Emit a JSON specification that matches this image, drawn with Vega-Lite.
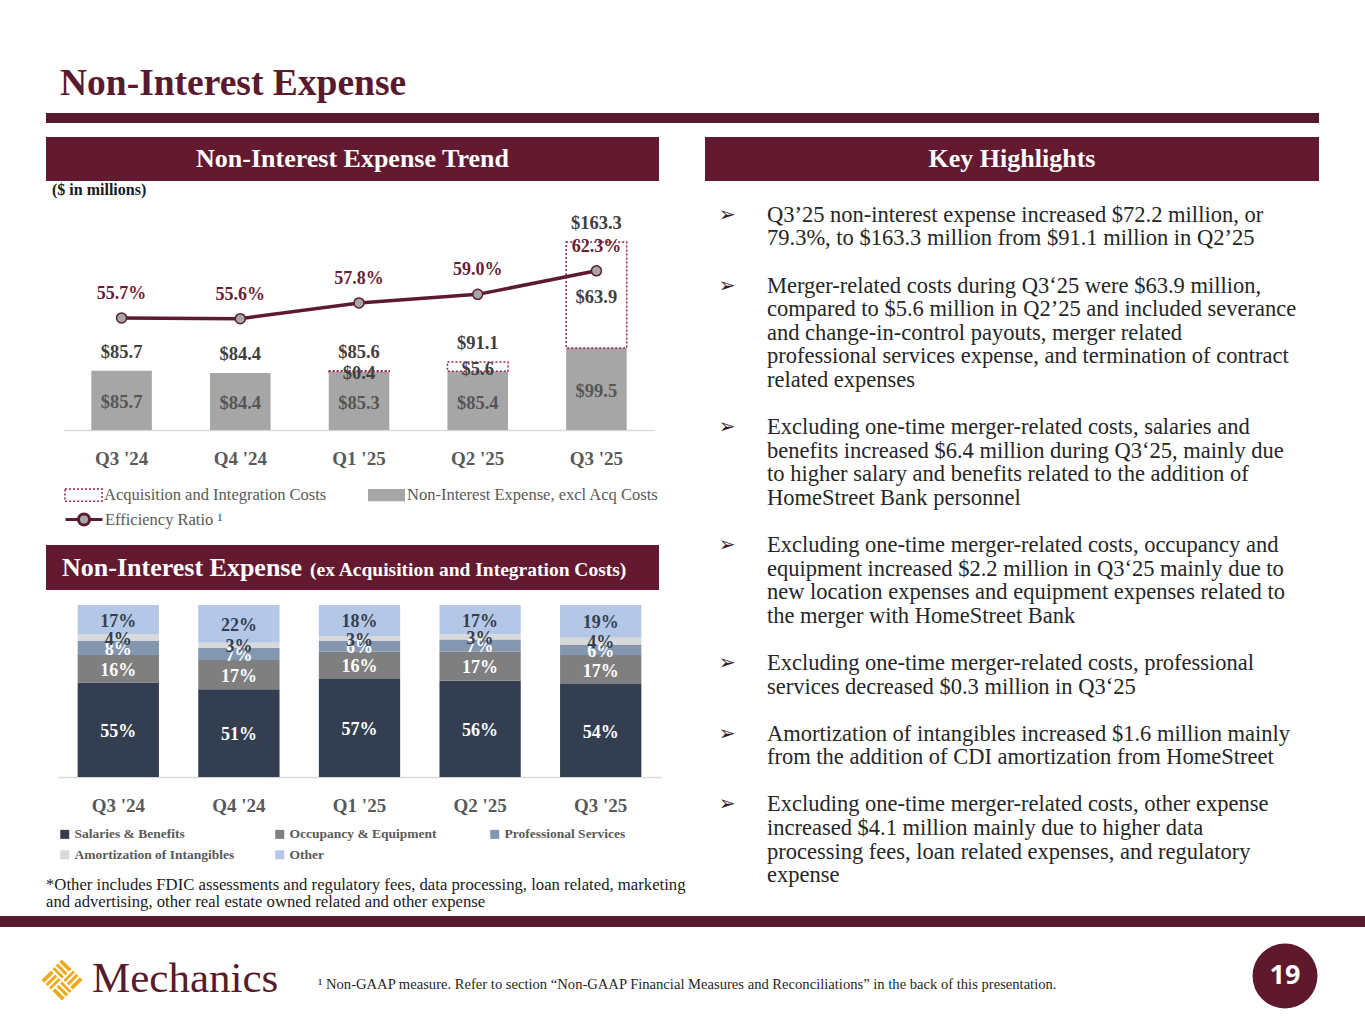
{
"$schema":"https://vega.github.io/schema/vega-lite/v6.json",
"padding":0,"background":"#ffffff","spacing":0,
"config":{"view":{"stroke":null},"font":"Liberation Serif","concat":{"spacing":0}},
"resolve":{"scale":{"color":"independent","stroke":"independent"},"legend":{"color":"independent","stroke":"independent"}},
"datasets":{
"trendBars":[
{"q":"Q3 '24","series":"Non-Interest Expense, excl Acq Costs","value":85.7},
{"q":"Q4 '24","series":"Non-Interest Expense, excl Acq Costs","value":84.4},
{"q":"Q1 '25","series":"Non-Interest Expense, excl Acq Costs","value":85.3},
{"q":"Q2 '25","series":"Non-Interest Expense, excl Acq Costs","value":85.4},
{"q":"Q3 '25","series":"Non-Interest Expense, excl Acq Costs","value":99.5},
{"q":"Q1 '25","series":"Acquisition and Integration Costs","value":0.4},
{"q":"Q2 '25","series":"Acquisition and Integration Costs","value":5.6},
{"q":"Q3 '25","series":"Acquisition and Integration Costs","value":63.9}],
"summary":[
{"q":"Q3 '24","total":85.7,"ratio":0.557},
{"q":"Q4 '24","total":84.4,"ratio":0.556},
{"q":"Q1 '25","total":85.6,"ratio":0.578},
{"q":"Q2 '25","total":91.1,"ratio":0.590},
{"q":"Q3 '25","total":163.3,"ratio":0.623}],
"mix":[
{"q":"Q3 '24","category":"Salaries & Benefits","k":1,"pct":0.55},
{"q":"Q3 '24","category":"Occupancy & Equipment","k":2,"pct":0.16},
{"q":"Q3 '24","category":"Professional Services","k":3,"pct":0.08},
{"q":"Q3 '24","category":"Amortization of Intangibles","k":4,"pct":0.04},
{"q":"Q3 '24","category":"Other","k":5,"pct":0.17},
{"q":"Q4 '24","category":"Salaries & Benefits","k":1,"pct":0.51},
{"q":"Q4 '24","category":"Occupancy & Equipment","k":2,"pct":0.17},
{"q":"Q4 '24","category":"Professional Services","k":3,"pct":0.07},
{"q":"Q4 '24","category":"Amortization of Intangibles","k":4,"pct":0.03},
{"q":"Q4 '24","category":"Other","k":5,"pct":0.22},
{"q":"Q1 '25","category":"Salaries & Benefits","k":1,"pct":0.57},
{"q":"Q1 '25","category":"Occupancy & Equipment","k":2,"pct":0.16},
{"q":"Q1 '25","category":"Professional Services","k":3,"pct":0.06},
{"q":"Q1 '25","category":"Amortization of Intangibles","k":4,"pct":0.03},
{"q":"Q1 '25","category":"Other","k":5,"pct":0.18},
{"q":"Q2 '25","category":"Salaries & Benefits","k":1,"pct":0.56},
{"q":"Q2 '25","category":"Occupancy & Equipment","k":2,"pct":0.17},
{"q":"Q2 '25","category":"Professional Services","k":3,"pct":0.07},
{"q":"Q2 '25","category":"Amortization of Intangibles","k":4,"pct":0.03},
{"q":"Q2 '25","category":"Other","k":5,"pct":0.17},
{"q":"Q3 '25","category":"Salaries & Benefits","k":1,"pct":0.54},
{"q":"Q3 '25","category":"Occupancy & Equipment","k":2,"pct":0.17},
{"q":"Q3 '25","category":"Professional Services","k":3,"pct":0.06},
{"q":"Q3 '25","category":"Amortization of Intangibles","k":4,"pct":0.04},
{"q":"Q3 '25","category":"Other","k":5,"pct":0.19}],
"highlights":[
{"r":1,"b":"➢","t":"Q3’25 non-interest expense increased $72.2 million, or"},
{"r":2,"b":"","t":"79.3%, to $163.3 million from $91.1 million in Q2’25"},
{"r":3,"b":"","t":""},
{"r":4,"b":"➢","t":"Merger-related costs during Q3‘25 were $63.9 million,"},
{"r":5,"b":"","t":"compared to $5.6 million in Q2’25 and included severance"},
{"r":6,"b":"","t":"and change-in-control payouts, merger related"},
{"r":7,"b":"","t":"professional services expense, and termination of contract"},
{"r":8,"b":"","t":"related expenses"},
{"r":9,"b":"","t":""},
{"r":10,"b":"➢","t":"Excluding one-time merger-related costs, salaries and"},
{"r":11,"b":"","t":"benefits increased $6.4 million during Q3‘25, mainly due"},
{"r":12,"b":"","t":"to higher salary and benefits related to the addition of"},
{"r":13,"b":"","t":"HomeStreet Bank personnel"},
{"r":14,"b":"","t":""},
{"r":15,"b":"➢","t":"Excluding one-time merger-related costs, occupancy and"},
{"r":16,"b":"","t":"equipment increased $2.2 million in Q3‘25 mainly due to"},
{"r":17,"b":"","t":"new location expenses and equipment expenses related to"},
{"r":18,"b":"","t":"the merger with HomeStreet Bank"},
{"r":19,"b":"","t":""},
{"r":20,"b":"➢","t":"Excluding one-time merger-related costs, professional"},
{"r":21,"b":"","t":"services decreased $0.3 million in Q3‘25"},
{"r":22,"b":"","t":""},
{"r":23,"b":"➢","t":"Amortization of intangibles increased $1.6 million mainly"},
{"r":24,"b":"","t":"from the addition of CDI amortization from HomeStreet"},
{"r":25,"b":"","t":""},
{"r":26,"b":"➢","t":"Excluding one-time merger-related costs, other expense"},
{"r":27,"b":"","t":"increased $4.1 million mainly due to higher data"},
{"r":28,"b":"","t":"processing fees, loan related expenses, and regulatory"},
{"r":29,"b":"","t":"expense"}]
},
"vconcat":[
{"width":1365,"height":62,"data":{"values":[{}]},"mark":{"type":"rect","opacity":0},"encoding":{}},
{"hconcat":[
 {"width":60,"height":44,"data":{"values":[{}]},"mark":{"type":"rect","opacity":0},"encoding":{}},
 {"width":620,"height":44,"data":{"values":[{"t":"Non-Interest Expense"}]},"mark":{"type":"text","align":"left","baseline":"middle","fontSize":37.5,"fontWeight":"bold","color":"#5a1a2e"},"encoding":{"x":{"value":0},"text":{"field":"t","type":"nominal"}}}
],"spacing":0},
{"width":1365,"height":7,"data":{"values":[{}]},"mark":{"type":"rect","opacity":0},"encoding":{}},
{"hconcat":[
 {"width":46,"height":10,"data":{"values":[{}]},"mark":{"type":"rect","opacity":0},"encoding":{}},
 {"width":1273,"height":10,"data":{"values":[{}]},"mark":{"type":"rect","color":"#561a2c"},"encoding":{}}
],"spacing":0},
{"width":1365,"height":14,"data":{"values":[{}]},"mark":{"type":"rect","opacity":0},"encoding":{}},
{"hconcat":[
 {"width":46,"height":44,"data":{"values":[{}]},"mark":{"type":"rect","opacity":0},"encoding":{}},
 {"width":613,"height":44,"data":{"values":[{"t":"Non-Interest Expense Trend"}]},"layer":[
   {"mark":{"type":"rect","color":"#63192f"},"encoding":{}},
   {"mark":{"type":"text","baseline":"middle","fontSize":26,"fontWeight":"bold","color":"#ffffff"},"encoding":{"text":{"field":"t","type":"nominal"}}}]},
 {"width":46,"height":44,"data":{"values":[{}]},"mark":{"type":"rect","opacity":0},"encoding":{}},
 {"width":614,"height":44,"data":{"values":[{"t":"Key Highlights"}]},"layer":[
   {"mark":{"type":"rect","color":"#63192f"},"encoding":{}},
   {"mark":{"type":"text","baseline":"middle","fontSize":26,"fontWeight":"bold","color":"#ffffff"},"encoding":{"text":{"field":"t","type":"nominal"}}}]}
],"spacing":0},
{"hconcat":[
 {"vconcat":[
   {"hconcat":[
     {"width":52,"height":17,"data":{"values":[{}]},"mark":{"type":"rect","opacity":0},"encoding":{}},
     {"width":200,"height":17,"data":{"values":[{"t":"($ in millions)"}]},"mark":{"type":"text","align":"left","baseline":"middle","fontSize":16,"fontWeight":"bold","color":"#1a1a1a"},"encoding":{"x":{"value":0},"text":{"field":"t","type":"nominal"}}}
   ],"spacing":0},
   {"hconcat":[
     {"width":64,"height":232,"data":{"values":[{}]},"mark":{"type":"rect","opacity":0},"encoding":{}},
     {"width":590,"height":232,
      "resolve":{"scale":{"y":"independent","color":"independent","stroke":"independent","strokeDash":"independent"},"legend":{"color":"independent","stroke":"independent","strokeDash":"independent"}},
      "layer":[
       {"layer":[
         {"data":{"name":"trendBars"},
          "transform":[{"stack":"value","groupby":["q"],"sort":[{"field":"series","order":"descending"}],"as":["v0","v1"]}],
          "mark":{"type":"bar","clip":true,"strokeWidth":1.5},
          "encoding":{
           "x":{"field":"q","type":"nominal","sort":null,"scale":{"paddingInner":0.49,"paddingOuter":0.23},"axis":{"title":null,"labelAngle":0,"labelFont":"Liberation Serif","labelFontSize":19,"labelFontWeight":"bold","labelColor":"#595959","ticks":false,"tickSize":0,"labelPadding":19,"domainColor":"#d9d9d9","domainWidth":1.5}},
           "y":{"field":"v0","type":"quantitative","scale":{"domain":[50,190],"zero":false,"nice":false},"axis":null},
           "y2":{"field":"v1"},
           "color":{"field":"series","type":"nominal","scale":{"domain":["Acquisition and Integration Costs","Non-Interest Expense, excl Acq Costs"],"range":["#ffffff","#a6a6a6"]},
             "legend":{"orient":"none","legendX":0,"legendY":277.5,"title":null,"direction":"horizontal","symbolType":"M-1,-0.33H1V0.33H-1Z","symbolSize":1369,"symbolStrokeWidth":1.5,"labelFont":"Liberation Serif","labelFontSize":16.5,"labelColor":"#595959","labelOffset":1,"labelLimit":400,"columnPadding":38,"padding":0}},
           "stroke":{"field":"series","type":"nominal","scale":{"domain":["Acquisition and Integration Costs","Non-Interest Expense, excl Acq Costs"],"range":["#9b2245","transparent"]},
             "legend":{"orient":"none","legendX":0,"legendY":277.5,"title":null,"direction":"horizontal","symbolType":"M-1,-0.33H1V0.33H-1Z","symbolSize":1369,"symbolStrokeWidth":1.5,"labelFont":"Liberation Serif","labelFontSize":16.5,"labelColor":"#595959","labelOffset":1,"labelLimit":400,"columnPadding":38,"padding":0}},
           "strokeDash":{"field":"series","type":"nominal","scale":{"domain":["Acquisition and Integration Costs","Non-Interest Expense, excl Acq Costs"],"range":[[2,2],[1,0]]},
             "legend":{"orient":"none","legendX":0,"legendY":277.5,"title":null,"direction":"horizontal","symbolType":"M-1,-0.33H1V0.33H-1Z","symbolSize":1369,"symbolStrokeWidth":1.5,"labelFont":"Liberation Serif","labelFontSize":16.5,"labelColor":"#595959","labelOffset":1,"labelLimit":400,"columnPadding":38,"padding":0}}
          }},
         {"data":{"name":"trendBars"},
          "transform":[{"stack":"value","groupby":["q"],"sort":[{"field":"series","order":"descending"}],"as":["v0","v1"]},
            {"filter":"datum.series === 'Acquisition and Integration Costs'"},
            {"fold":["v0","v1"],"as":["edge","pos"]},
            {"aggregate":[{"op":"mean","field":"pos","as":"mid"}],"groupby":["q","series","value"]}],
          "mark":{"type":"text","baseline":"middle","dy":2,"fontSize":18.5,"fontWeight":"bold","color":"#404040"},
          "encoding":{
           "x":{"field":"q","type":"nominal","sort":null},
           "y":{"field":"mid","type":"quantitative","scale":{"domain":[50,190],"zero":false,"nice":false}},
           "text":{"field":"value","type":"quantitative","format":"$.1f"}
          }},
         {"data":{"name":"summary"},
          "mark":{"type":"text","baseline":"middle","dy":-19,"fontSize":18.5,"fontWeight":"bold","color":"#404040"},
          "encoding":{
           "x":{"field":"q","type":"nominal","sort":null},
           "y":{"field":"total","type":"quantitative","scale":{"domain":[50,190],"zero":false,"nice":false}},
           "text":{"field":"total","type":"quantitative","format":"$.1f"}
          }}
       ]},
       {"data":{"name":"trendBars"},
        "transform":[{"filter":"datum.series === 'Non-Interest Expense, excl Acq Costs'"}],
        "mark":{"type":"text","baseline":"middle","dy":2,"fontSize":18.5,"fontWeight":"bold","color":"#555555"},
        "encoding":{
         "x":{"field":"q","type":"nominal","sort":null},
         "y":{"field":"value","type":"quantitative","scale":{"domain":[50,330],"zero":false,"nice":false},"axis":null},
         "text":{"field":"value","type":"quantitative","format":"$.1f"}
        }},
       {"data":{"name":"summary"},
        "layer":[
         {"mark":{"type":"line","strokeWidth":3.5},
          "encoding":{
           "x":{"field":"q","type":"nominal","sort":null},
           "y":{"field":"ratio","type":"quantitative","scale":{"domain":[0.40,0.725],"zero":false,"nice":false},"axis":null},
           "stroke":{"datum":"Efficiency Ratio","type":"nominal","scale":{"range":["#5d1a31"]},
             "legend":{"orient":"none","legendX":0,"legendY":301.5,"title":null,"symbolType":"M-1,0H-0.32M0.32,0H1M-0.3,0A0.3,0.3 0 1,0 0.3,0A0.3,0.3 0 1,0 -0.3,0","symbolSize":1369,"symbolStrokeWidth":3,"symbolFillColor":"#a6a6a6","labelFont":"Liberation Serif","labelFontSize":16.5,"labelColor":"#595959","labelOffset":1,"labelLimit":400,"labelExpr":"datum.label + '  ¹'","padding":0,
               "encode":{"symbols":{"update":{"fill":{"value":"#a6a6a6"}}}}}}
          }},
         {"mark":{"type":"point","filled":true,"size":100,"fill":"#a6a6a6","strokeWidth":1.5,"opacity":1},
          "encoding":{
           "x":{"field":"q","type":"nominal","sort":null},
           "y":{"field":"ratio","type":"quantitative"},
           "stroke":{"datum":"Efficiency Ratio","type":"nominal"}
          }},
         {"mark":{"type":"text","baseline":"middle","dy":-24,"fontSize":18,"fontWeight":"bold","color":"#6b1d37"},
          "encoding":{
           "x":{"field":"q","type":"nominal","sort":null},
           "y":{"field":"ratio","type":"quantitative"},
           "text":{"field":"ratio","type":"quantitative","format":".1%"}
          }}
       ]}
      ]}
   ],"spacing":0,"resolve":{"scale":{"color":"independent","stroke":"independent"},"legend":{"color":"independent","stroke":"independent"}}},
   {"width":705,"height":13,"data":{"values":[{}]},"mark":{"type":"rect","opacity":0},"encoding":{}},
   {"hconcat":[
     {"width":46,"height":45,"data":{"values":[{}]},"mark":{"type":"rect","opacity":0},"encoding":{}},
     {"width":16,"height":45,"data":{"values":[{}]},"mark":{"type":"rect","color":"#63192f"},"encoding":{}},
     {"width":248,"height":45,"data":{"values":[{"t":"Non-Interest Expense"}]},"layer":[
       {"mark":{"type":"rect","color":"#63192f"},"encoding":{}},
       {"mark":{"type":"text","align":"left","baseline":"alphabetic","dy":8,"fontSize":26,"fontWeight":"bold","color":"#ffffff"},"encoding":{"x":{"value":0},"text":{"field":"t","type":"nominal"}}}]},
     {"width":349,"height":45,"data":{"values":[{"t":"(ex Acquisition and Integration Costs)"}]},"layer":[
       {"mark":{"type":"rect","color":"#63192f"},"encoding":{}},
       {"mark":{"type":"text","align":"left","baseline":"alphabetic","dy":8,"fontSize":19.5,"fontWeight":"bold","color":"#ffffff"},"encoding":{"x":{"value":0},"text":{"field":"t","type":"nominal"}}}]}
   ],"spacing":0},
   {"width":705,"height":15,"data":{"values":[{}]},"mark":{"type":"rect","opacity":0},"encoding":{}},
   {"hconcat":[
     {"width":58,"height":172,"data":{"values":[{}]},"mark":{"type":"rect","opacity":0},"encoding":{}},
     {"width":603,"height":172,
      "data":{"name":"mix"},
      "transform":[{"stack":"pct","groupby":["q"],"sort":[{"field":"k"}],"as":["p0","p1"]}],
      "layer":[
       {"mark":{"type":"bar"},
        "encoding":{
         "x":{"field":"q","type":"nominal","sort":null,"scale":{"paddingInner":0.326,"paddingOuter":0.163},"axis":{"title":null,"labelAngle":0,"labelFont":"Liberation Serif","labelFontSize":19,"labelFontWeight":"bold","labelColor":"#595959","ticks":false,"tickSize":0,"labelPadding":19,"domainColor":"#d9d9d9","domainWidth":1.5}},
         "y":{"field":"p0","type":"quantitative","scale":{"domain":[0,1],"nice":false},"axis":null},
         "y2":{"field":"p1"},
         "color":{"field":"category","type":"nominal","scale":{"domain":["Salaries & Benefits","Occupancy & Equipment","Professional Services","Amortization of Intangibles","Other"],"range":["#333f50","#7f7f7f","#8497b0","#d9d9d9","#b4c7e7"]},
           "legend":{"orient":"none","legendX":0,"legendY":222.25,"title":null,"direction":"horizontal","columns":3,"symbolType":"square","symbolSize":81,"labelFont":"Liberation Serif","labelFontSize":13.5,"labelFontWeight":"bold","labelColor":"#595959","labelOffset":3,"labelLimit":300,"columnPadding":38,"rowPadding":5.8,"gridAlign":"all","padding":0}}
        }},
       {"transform":[{"fold":["p0","p1"],"as":["edge","pos"]},{"aggregate":[{"op":"mean","field":"pos","as":"mid"}],"groupby":["q","category","pct"]}],
        "mark":{"type":"text","baseline":"middle","dy":2,"fontSize":18,"fontWeight":"bold"},
        "encoding":{
         "x":{"field":"q","type":"nominal","sort":null},
         "y":{"field":"mid","type":"quantitative"},
         "text":{"field":"pct","type":"quantitative","format":".0%"},
         "color":{"condition":{"test":"datum.category === 'Amortization of Intangibles' || datum.category === 'Other'","value":"#333f50"},"value":"#ffffff"}
        }}
      ]}
   ],"spacing":0,"resolve":{"scale":{"color":"independent","stroke":"independent"},"legend":{"color":"independent","stroke":"independent"}}},
   {"width":705,"height":5,"data":{"values":[{}]},"mark":{"type":"rect","opacity":0},"encoding":{}},
   {"hconcat":[
     {"width":46,"height":34,"data":{"values":[{}]},"mark":{"type":"rect","opacity":0},"encoding":{}},
     {"width":655,"height":34,"data":{"values":[{}]},"mark":{"type":"text","align":"left","baseline":"middle","fontSize":16.7,"lineHeight":17,"color":"#1a1a1a"},"encoding":{"x":{"value":0},"text":{"value":["*Other includes FDIC assessments and regulatory fees, data processing, loan related, marketing","and advertising, other real estate owned related and other expense"]}}}
   ],"spacing":0},
   {"width":705,"height":4.5,"data":{"values":[{}]},"mark":{"type":"rect","opacity":0},"encoding":{}}
 ],"spacing":0,"resolve":{"scale":{"color":"independent","stroke":"independent"},"legend":{"color":"independent","stroke":"independent"}}},
 {"vconcat":[
   {"width":614,"height":22,"data":{"values":[{}]},"mark":{"type":"rect","opacity":0},"encoding":{}},
   {"hconcat":[
     {"width":12,"height":684,"data":{"values":[{}]},"mark":{"type":"rect","opacity":0},"encoding":{}},
     {"width":20,"height":684,"data":{"name":"highlights"},"mark":{"type":"text","baseline":"middle","font":"DejaVu Sans","fontSize":20,"color":"#3a1a26"},"encoding":{"y":{"field":"r","type":"ordinal","scale":{"type":"point","padding":0.5},"axis":null},"text":{"field":"b","type":"nominal"}}},
     {"width":30,"height":684,"data":{"values":[{}]},"mark":{"type":"rect","opacity":0},"encoding":{}},
     {"width":560,"height":684,"data":{"name":"highlights"},"mark":{"type":"text","align":"left","baseline":"middle","fontSize":22.5,"color":"#262626"},"encoding":{"x":{"value":0},"y":{"field":"r","type":"ordinal","scale":{"type":"point","padding":0.5},"axis":null},"text":{"field":"t","type":"nominal"}}}
   ],"spacing":0},
   {"width":614,"height":28,"data":{"values":[{}]},"mark":{"type":"rect","opacity":0},"encoding":{}}
 ],"spacing":0}
],"spacing":0,"resolve":{"scale":{"color":"independent","stroke":"independent"},"legend":{"color":"independent","stroke":"independent"}}},
{"width":1365,"height":11,"data":{"values":[{}]},"mark":{"type":"rect","color":"#561a2c"},"encoding":{}},
{"hconcat":[
 {"width":40,"height":98,"data":{"values":[{}]},"mark":{"type":"rect","opacity":0},"encoding":{}},
 {"vconcat":[
   {"width":44,"height":8,"data":{"values":[{}]},"mark":{"type":"rect","opacity":0},"encoding":{}},
   {"width":44,"height":90,"data":{"values":[{}]},"layer":[
     {"mark":{"type":"point","shape":"M-0.7,-0.7H0.7V0.7H-0.7Z","angle":45,"size":1714,"filled":true,"fill":"#eeaa1f","opacity":1,"strokeWidth":0},"encoding":{}},
     {"mark":{"type":"point","shape":"M-0.7,-0.47H0M-0.7,-0.23H0M0.23,-0.7V0M0.47,-0.7V0M0,0.23H0.7M0,0.47H0.7M-0.47,0V0.7M-0.23,0V0.7M-0.7,0H0.7M0,-0.7V0.7","angle":45,"size":1714,"filled":false,"stroke":"#ffffff","strokeWidth":2,"opacity":1},"encoding":{}}]}
 ],"spacing":0},
 {"width":8,"height":98,"data":{"values":[{}]},"mark":{"type":"rect","opacity":0},"encoding":{}},
 {"vconcat":[
   {"width":200,"height":6,"data":{"values":[{}]},"mark":{"type":"rect","opacity":0},"encoding":{}},
   {"width":200,"height":92,"data":{"values":[{"t":"Mechanics"}]},"mark":{"type":"text","align":"left","baseline":"middle","fontSize":43,"color":"#5a1a2e"},"encoding":{"x":{"value":0},"text":{"field":"t","type":"nominal"}}}
 ],"spacing":0},
 {"width":26,"height":98,"data":{"values":[{}]},"mark":{"type":"rect","opacity":0},"encoding":{}},
 {"vconcat":[
   {"width":934,"height":18,"data":{"values":[{}]},"mark":{"type":"rect","opacity":0},"encoding":{}},
   {"width":934,"height":80,"data":{"values":[{"t":"¹ Non-GAAP measure. Refer to section “Non-GAAP Financial Measures and Reconciliations” in the back of this presentation."}]},"mark":{"type":"text","align":"left","baseline":"middle","fontSize":14.6,"color":"#262626"},"encoding":{"x":{"value":0},"text":{"field":"t","type":"nominal"}}}
 ],"spacing":0},
 {"width":66,"height":98,"data":{"values":[{"n":"19"}]},"layer":[
   {"mark":{"type":"point","shape":"circle","size":4225,"filled":true,"color":"#5e1a2c","opacity":1},"encoding":{}},
   {"mark":{"type":"text","font":"Open Sans","fontSize":27,"fontWeight":"bold","color":"#ffffff","baseline":"middle"},"encoding":{"text":{"field":"n","type":"nominal"}}}]}
],"spacing":0}
]
}
